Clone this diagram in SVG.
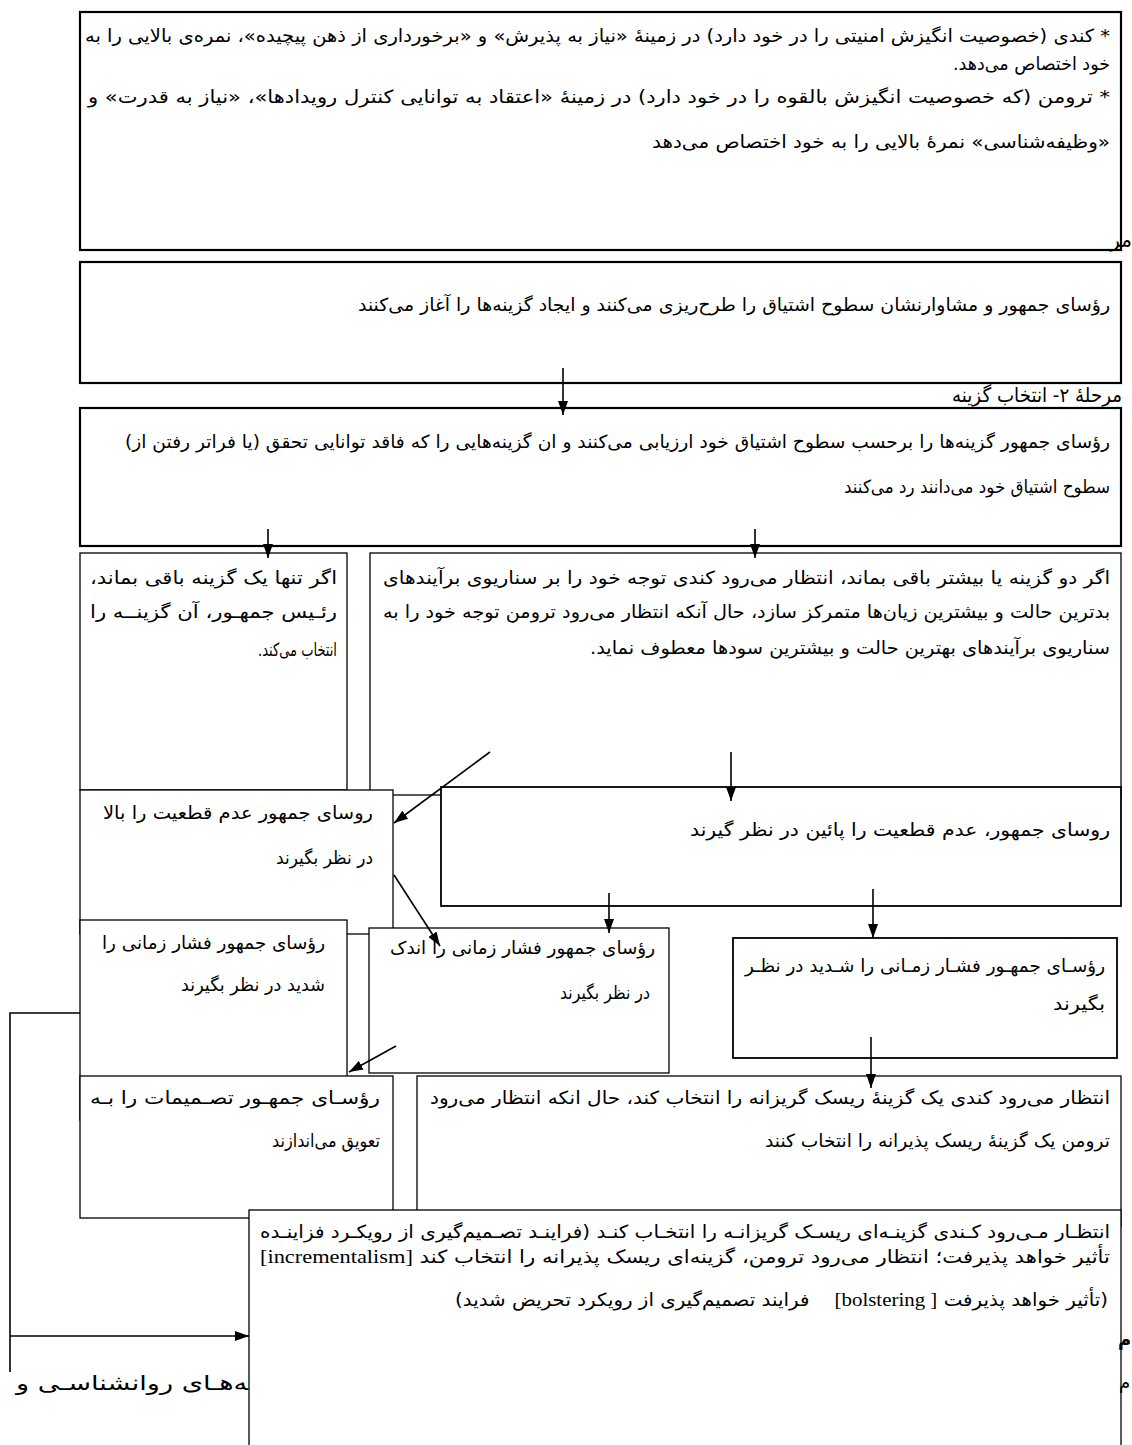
<svg xmlns="http://www.w3.org/2000/svg" width="1132" height="1445" viewBox="0 0 1132 1445">
<style>
.bg{fill:#fff}
.box{fill:#fff;stroke:#000;stroke-width:1.3}
.thick{stroke-width:2.2}
.med{stroke-width:1.8}
.t{font-family:"DejaVu Sans",sans-serif;font-size:18px;fill:#000}
.r{direction:rtl;text-anchor:start}
.l{direction:ltr;text-anchor:end}
.en{font-family:"Liberation Serif",serif;font-size:19px}
.big{font-size:20px}
.bold{font-weight:bold}
.c{fill:none;stroke:#000;stroke-width:1.6}
</style>
<defs>
<marker id="ah" markerUnits="userSpaceOnUse" markerWidth="14" markerHeight="10" refX="14" refY="5" viewBox="0 0 14 10" orient="auto">
<path d="M0,0 L14,5 L0,10 z" fill="#000"/>
</marker>
</defs>
<rect class="bg" x="0" y="0" width="1132" height="1445"/>

<g id="n1">
<rect class="box thick" x="80" y="12" width="1041" height="238"/>
<text class="t r" x="1110" y="42" textLength="1025" lengthAdjust="spacingAndGlyphs">* کندی (خصوصیت انگیزش امنیتی را در خود دارد) در زمینهٔ «نیاز به پذیرش» و «برخورداری از ذهن پیچیده»، نمره&#x200C;ی بالایی را به</text>
<text class="t r" x="1110" y="70" textLength="157" lengthAdjust="spacingAndGlyphs">خود اختصاص می&#x200C;دهد.</text>
<text class="t r" x="1110" y="103" textLength="1022" lengthAdjust="spacingAndGlyphs">* ترومن (که خصوصیت انگیزش بالقوه را در خود دارد) در زمینهٔ «اعتقاد به توانایی کنترل رویدادها»، «نیاز به قدرت» و</text>
<text class="t r" x="1110" y="148" textLength="458" lengthAdjust="spacingAndGlyphs">«وظیفه&#x200C;شناسی» نمرهٔ بالایی را به خود اختصاص می&#x200C;دهد</text>
</g>

<g id="n2">
<rect class="box thick" x="80" y="262" width="1041" height="121"/>
<text class="t r" x="1110" y="311" textLength="752" lengthAdjust="spacingAndGlyphs">رؤسای جمهور و مشاوارنشان سطوح اشتیاق را طرح&#x200C;ریزی می&#x200C;کنند و ایجاد گزینه&#x200C;ها را آغاز می&#x200C;کنند</text>
</g>

<text class="t r big" x="1132" y="247">مر</text>
<text class="t r big" x="1122" y="402" textLength="170" lengthAdjust="spacingAndGlyphs">مرحلهٔ ۲- انتخاب گزینه</text>

<g id="n3">
<rect class="box thick" x="80" y="408" width="1041" height="138"/>
<text class="t r" x="1110" y="448" textLength="985" lengthAdjust="spacingAndGlyphs">رؤسای جمهور گزینه&#x200C;ها را برحسب سطوح اشتیاق خود ارزیابی می&#x200C;کنند و ان گزینه&#x200C;هایی را که فاقد توانایی تحقق (یا فراتر رفتن از)</text>
<text class="t r" x="1110" y="493" textLength="266" lengthAdjust="spacingAndGlyphs">سطوح اشتیاق خود می&#x200C;دانند رد می&#x200C;کنند</text>
</g>

<g id="n4">
<rect class="box" x="80" y="553" width="267" height="237"/>
<text class="t r" x="337" y="584" textLength="247" lengthAdjust="spacingAndGlyphs">اگر تنها یک گزینه باقی بماند،</text>
<text class="t r" x="337" y="618" textLength="247" lengthAdjust="spacingAndGlyphs">رئـیس جمهـور، آن گزینــه را</text>
<text class="t r" x="337" y="656" textLength="79" lengthAdjust="spacingAndGlyphs">انتخاب می&#x200C;کند.</text>
</g>

<g id="n5">
<rect class="box" x="370" y="553" width="751" height="242"/>
<text class="t r" x="1110" y="584" textLength="727" lengthAdjust="spacingAndGlyphs">اگر دو گزینه یا بیشتر باقی بماند، انتظار می&#x200C;رود کندی توجه خود را بر سناریوی برآیندهای</text>
<text class="t r" x="1110" y="618" textLength="727" lengthAdjust="spacingAndGlyphs">بدترین حالت و بیشترین زیان&#x200C;ها متمرکز سازد، حال آنکه انتظار می&#x200C;رود ترومن توجه خود را به</text>
<text class="t r" x="1110" y="654" textLength="520" lengthAdjust="spacingAndGlyphs">سناریوی برآیندهای بهترین حالت و بیشترین سودها معطوف نماید.</text>
</g>

<g id="n7">
<rect class="box med" x="441" y="787" width="680" height="119"/>
<text class="t r" x="1110" y="836" textLength="420" lengthAdjust="spacingAndGlyphs">روسای جمهور، عدم قطعیت را پائین در نظر گیرند</text>
</g>

<g id="n6">
<rect class="box" x="80" y="790" width="313" height="144"/>
<text class="t r" x="373" y="819" textLength="270" lengthAdjust="spacingAndGlyphs">روسای جمهور عدم قطعیت را بالا</text>
<text class="t r" x="373" y="864" textLength="97" lengthAdjust="spacingAndGlyphs">در نظر بگیرند</text>
</g>

<g id="n8">
<rect class="box" x="80" y="920" width="267" height="200"/>
<text class="t r" x="325" y="949" textLength="223" lengthAdjust="spacingAndGlyphs">رؤسای جمهور فشار زمانی را</text>
<text class="t r" x="325" y="991" textLength="144" lengthAdjust="spacingAndGlyphs">شدید در نظر بگیرند</text>
</g>

<g id="n9">
<rect class="box" x="369" y="928" width="300" height="145"/>
<text class="t r" x="655" y="954" textLength="265" lengthAdjust="spacingAndGlyphs">رؤسای جمهور فشار زمانی را اندک</text>
<text class="t r" x="650" y="999" textLength="90" lengthAdjust="spacingAndGlyphs">در نظر بگیرند</text>
</g>

<g id="n10">
<rect class="box med" x="733" y="938" width="384" height="120"/>
<text class="t r" x="1105" y="972" textLength="360" lengthAdjust="spacingAndGlyphs">رؤسـای جمهـور فشـار زمـانی را شـدید در نظـر</text>
<text class="t r" x="1105" y="1010" textLength="52" lengthAdjust="spacingAndGlyphs">بگیرند</text>
</g>

<g id="n11">
<rect class="box" x="80" y="1076" width="313" height="142"/>
<text class="t r" x="380" y="1104" textLength="290" lengthAdjust="spacingAndGlyphs">رؤسـای جمهـور تصـمیمات را بـه</text>
<text class="t r" x="380" y="1147" textLength="108" lengthAdjust="spacingAndGlyphs">تعویق می&#x200C;اندازند</text>
</g>

<g id="n12">
<rect class="box" x="417" y="1076" width="704" height="150"/>
<text class="t r" x="1110" y="1104" textLength="680" lengthAdjust="spacingAndGlyphs">انتظار می&#x200C;رود کندی یک گزینهٔ ریسک گریزانه را انتخاب کند، حال انکه انتظار می&#x200C;رود</text>
<text class="t r" x="1110" y="1147" textLength="345" lengthAdjust="spacingAndGlyphs">ترومن یک گزینهٔ ریسک پذیرانه را انتخاب کنند</text>
</g>

<text class="t r big" x="248" y="1390" textLength="232" lengthAdjust="spacingAndGlyphs">&#x200D;ه&#x200C;هـای روانشناسـی و</text>

<g id="n13">
<rect class="box" x="249" y="1210" width="872" height="250"/>
<text class="t r" x="1110" y="1238" textLength="850" lengthAdjust="spacingAndGlyphs">انتظـار مـی&#x200C;رود کـندی گزینـه&#x200C;ای ریسـک گریزانـه را انتخـاب کنـد (فراینـد تصـمیم&#x200C;گیری از رویکـرد فزاینـده</text>
<text class="t l" x="1110" y="1263" textLength="850" lengthAdjust="spacingAndGlyphs"><tspan class="en">[incrementalism]</tspan> تأثیر خواهد پذیرفت؛ انتظار می&#x200C;رود ترومن، گزینه&#x200C;ای ریسک پذیرانه را انتخاب کند</text>
<text class="t l" x="1108" y="1306" textLength="653" lengthAdjust="spacingAndGlyphs">(فرایند تصمیم&#x200C;گیری از رویکرد تحریض شدید &#160;&#160;&#160;<tspan class="en">[bolstering ]</tspan> تأثیر خواهد پذیرفت)</text>
</g>

<text class="t bold" x="1118" y="1346">م</text>
<text class="t" x="1119" y="1389">م</text>

<g id="connectors">
<line class="c" x1="563" y1="368" x2="563" y2="415" marker-end="url(#ah)"/>
<line class="c" x1="268" y1="529" x2="268" y2="558" marker-end="url(#ah)"/>
<line class="c" x1="755" y1="529" x2="755" y2="558" marker-end="url(#ah)"/>
<line class="c" x1="490" y1="752" x2="394" y2="823" marker-end="url(#ah)"/>
<line class="c" x1="731" y1="752" x2="731" y2="801" marker-end="url(#ah)"/>
<line class="c" x1="394" y1="875" x2="440" y2="946" marker-end="url(#ah)"/>
<line class="c" x1="609" y1="893" x2="609" y2="933" marker-end="url(#ah)"/>
<line class="c" x1="873" y1="889" x2="873" y2="938" marker-end="url(#ah)"/>
<line class="c" x1="396" y1="1046" x2="349" y2="1072" marker-end="url(#ah)"/>
<line class="c" x1="871" y1="1037" x2="871" y2="1088" marker-end="url(#ah)"/>
<polyline class="c" points="80,1013 10,1013 10,1372"/>
<line class="c" x1="10" y1="1336" x2="249" y2="1336" marker-end="url(#ah)"/>
</g>
</svg>
